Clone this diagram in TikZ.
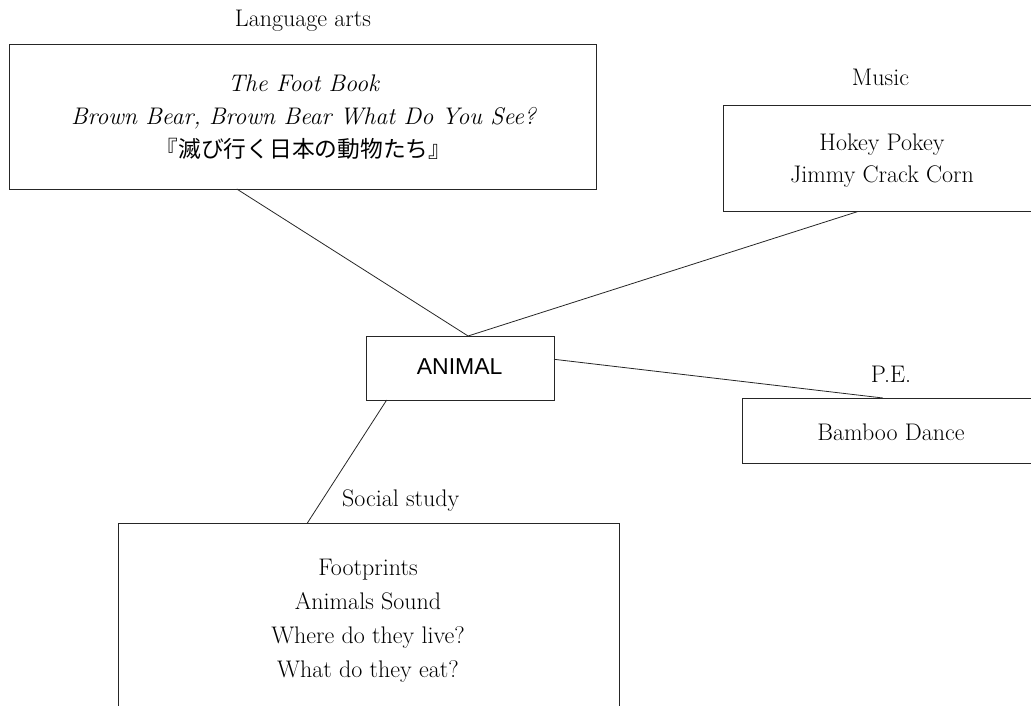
\documentclass[tikz,border=0pt]{standalone}
\usepackage{fontspec}
\newfontfamily\jpfont{Noto Sans CJK JP}
\newfontfamily\hvfont{Liberation Sans}
\usetikzlibrary{calc}
\begin{document}
\begin{tikzpicture}[x=1pt,y=-1pt,
  every node/.style={font=\fontsize{24}{33}\selectfont, inner sep=0pt, outer sep=0pt},
  box/.style={draw=black!85, line width=0.8pt, rectangle, inner sep=0pt},
  txt/.style={anchor=base},
  link/.style={draw=black!85, line width=0.8pt}]
\useasboundingbox (0,0) rectangle (1031,706);
\clip (0,0) rectangle (1031,706);

% boxes
\node[box, minimum width=587pt, minimum height=145pt] (lang) at (302.5,116.5) {};
\node[box, minimum width=316pt, minimum height=106.5pt] (music) at (881,158.25) {};
\node[box, minimum width=188pt, minimum height=64pt] (animal) at (460,368) {};
\node[box, minimum width=298pt, minimum height=65pt] (pe) at (891,430.5) {};
\node[box, minimum width=501pt, minimum height=192pt] (social) at (368.5,619) {};

% labels
\node[txt] (langlbl) at (303,26.7) {Language arts};
\node[txt] (musiclbl) at (880.5,86) {Music};
\node[txt] (pelbl) at (891,382.7) {P.E.};
\node[txt] (sociallbl) at (400.7,506.7) {Social study};

% contents
\node[txt] (l1) at (303.5,91.7) {\itshape The Foot Book};
\node[txt] (l2) at (303.5,124.7) {\itshape Brown Bear, Brown Bear What Do You See?};
\node[txt, font=\fontsize{22.75}{33}\jpfont] (l3) at (303.5,157.7) {『滅び行く日本の動物たち』};

\node[txt] (m1) at (882,150) {Hokey Pokey};
\node[txt] (m2) at (882,182.7) {Jimmy Crack Corn};

\node[txt, font=\fontsize{23}{33}\hvfont] (an) at (459.7,374.3) {ANIMAL};

\node[txt] (p1) at (891,440) {Bamboo Dance};

\node[txt] (s1) at (368,575) {Footprints};
\node[txt] (s2) at (368,609) {Animals Sound};
\node[txt] (s3) at (368,643.3) {Where do they live?};
\node[txt] (s4) at (368,677.3) {What do they eat?};

% connectors
\coordinate (atop) at ($(animal.north west)!0.543!(animal.north east)$);
\draw[link] ($(lang.south west)!0.388!(lang.south east)$) -- (atop);
\draw[link] ($(music.south west)!0.427!(music.south east)$) -- (atop);
\draw[link] ($(animal.north east)!0.364!(animal.south east)$) -- ($(pe.north west)!0.473!(pe.north east)$);
\draw[link] ($(animal.south west)!0.11!(animal.south east)$) -- ($(social.north west)!0.378!(social.north east)$);
\end{tikzpicture}
\end{document}
